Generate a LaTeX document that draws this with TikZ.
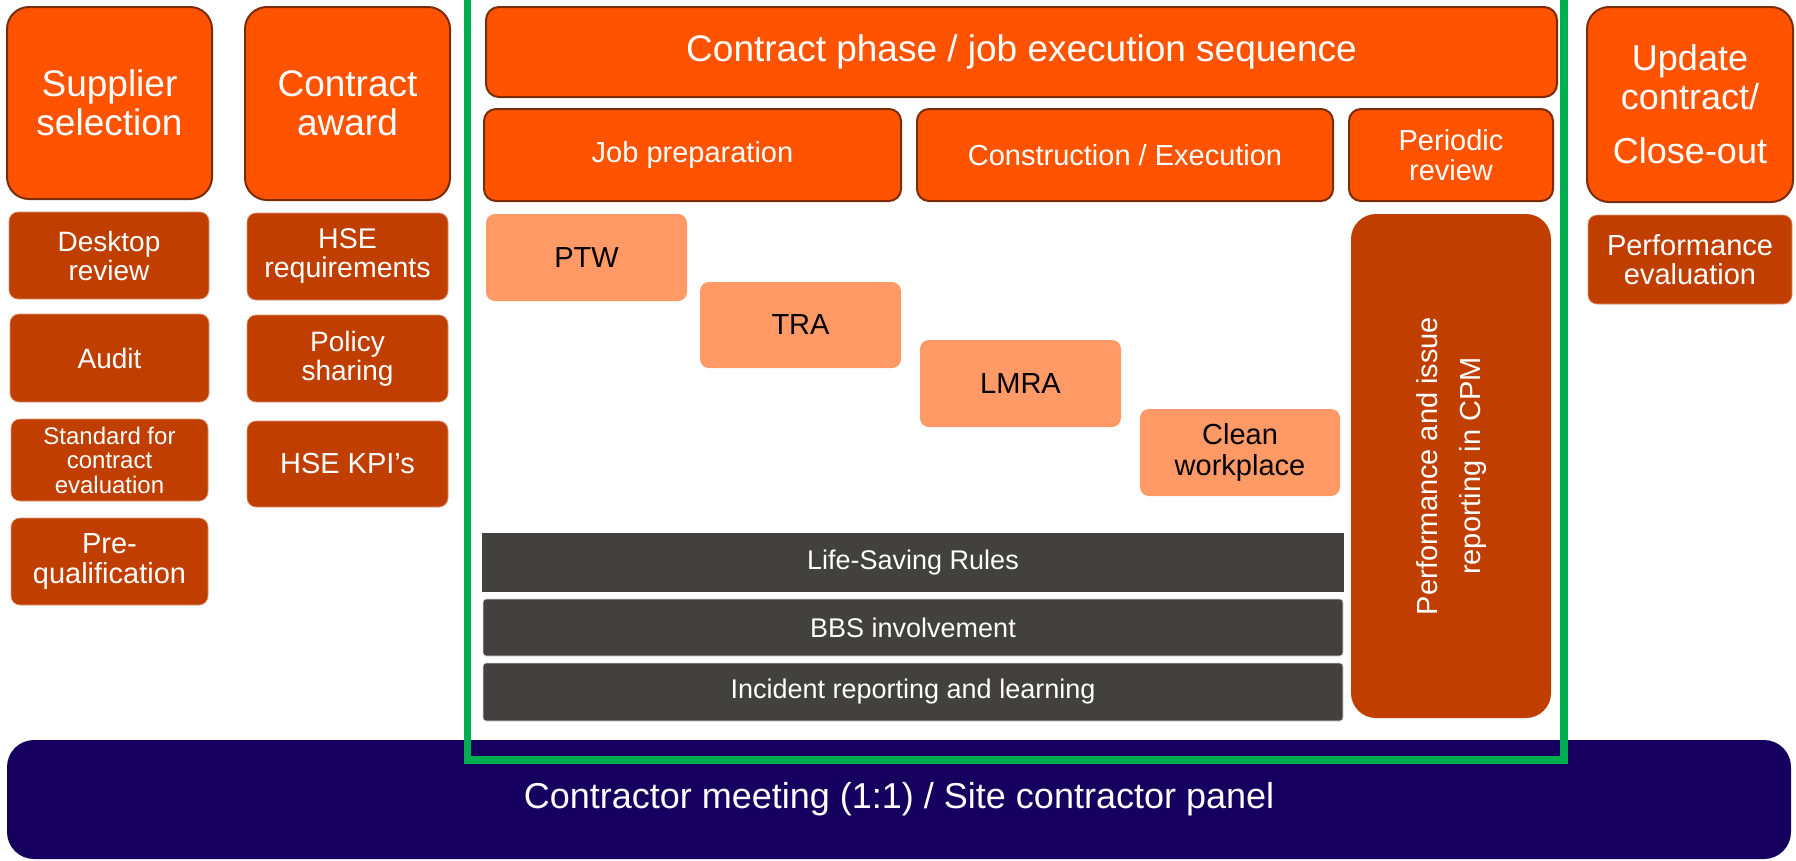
\documentclass[tikz,border=0pt]{standalone}
\usepackage{fontspec}
\setmainfont{Liberation Sans}
\definecolor{orangeA}{HTML}{FF5300}
\definecolor{orangeB}{HTML}{7A2C08}
\definecolor{rustA}{HTML}{C03F00}
\definecolor{salmonA}{HTML}{FF9966}
\definecolor{darkA}{HTML}{424140}
\definecolor{navyA}{HTML}{150060}
\definecolor{greenA}{HTML}{00B050}
\newcommand\fsz[2]{\fontsize{#1}{#2}\selectfont}
\tikzset{
  bigbox/.style={draw=orangeB, line width=2pt, fill=orangeA, rounded corners=22pt, text=white, align=center, inner sep=0pt, font=\fsz{37}{38.5}},
  headbox/.style={draw=orangeB, line width=2pt, fill=orangeA, rounded corners=12pt, text=white, align=center, inner sep=0pt, font=\fsz{29}{29.5}},
  rustbox/.style={draw=rustA!55!white, line width=0.7pt, fill=rustA, rounded corners=9pt, text=white, align=center, inner sep=0pt, font=\fsz{28}{29}},
  salmonbox/.style={fill=salmonA, rounded corners=9pt, text=black, align=center, inner sep=0pt, font=\fsz{29}{30.5}},
  darkbar/.style={fill=darkA, text=white, align=center, inner sep=0pt, font=\fsz{27}{29}},
  navybox/.style={fill=navyA, rounded corners=27pt, text=white, align=center, inner sep=0pt, font=\fsz{36}{38}},
  frameline/.style={draw=greenA, line width=7.5pt}
}
\begin{document}
\begin{tikzpicture}[x=1pt,y=-1pt]
\useasboundingbox (0,0) rectangle (1796,860);
% navy base
\node[navybox, minimum width=1784, minimum height=119] (navy) at (899,799.5) {Contractor meeting (1:1) / Site contractor panel};
% left columns
\node[bigbox, minimum width=205, minimum height=192] (sup) at (109.5,103) {Supplier\\selection};
\node[bigbox, minimum width=205, minimum height=193] (award) at (347.5,103.5) {Contract\\award};
\node[rustbox, minimum width=200, minimum height=87] (desk) at (109,255.5) {Desktop\\review};
\node[rustbox, minimum width=199, minimum height=88] (audit) at (109.5,358) {Audit};
\node[rustbox, minimum width=197, minimum height=82, font=\fsz{24}{24.5}] (std) at (109.5,460) {Standard for\\contract\\evaluation};
\node[rustbox, minimum width=197, minimum height=87, font=\fsz{29}{30}] (preq) at (109.5,561.5) {Pre-\\qualification};
\node[rustbox, minimum width=201, minimum height=87, font=\fsz{28.5}{29}] (hsereq) at (347.5,256.5) {HSE\\requirements};
\node[rustbox, minimum width=201, minimum height=87] (policy) at (347.5,358.5) {Policy\\sharing};
\node[rustbox, minimum width=201, minimum height=86, font=\fsz{29}{30}] (kpi) at (347.5,464) {HSE KPI’s};
% contract phase
\node[headbox, rounded corners=13pt, minimum width=1071, minimum height=90, font=\fsz{37}{38.5}] (phase) at (1021.5,52) {Contract phase / job execution sequence};
\node[headbox, minimum width=417, minimum height=92] (jobprep) at (692.5,155) {Job preparation};
\node[headbox, minimum width=416, minimum height=92] (constr) at (1125,155) {Construction / Execution};
\node[headbox, minimum width=204, minimum height=92] (periodic) at (1451,155) {Periodic\\review};
\node[salmonbox, minimum width=201, minimum height=87] (ptw) at (586.5,257.5) {PTW};
\node[salmonbox, minimum width=201, minimum height=86] (tra) at (800.5,325) {TRA};
\node[salmonbox, minimum width=201, minimum height=87] (lmra) at (1020.5,383.5) {LMRA};
\node[salmonbox, minimum width=200, minimum height=87] (clean) at (1240,452.5) {Clean\\workplace};
\node[darkbar, minimum width=862, minimum height=59] (lsr) at (913,562.5) {Life-Saving Rules};
\node[darkbar, draw=gray!25, line width=0.8pt, rounded corners=3pt, minimum width=860, minimum height=57] (bbs) at (913,627.5) {BBS involvement};
\node[darkbar, draw=gray!25, line width=0.8pt, rounded corners=3pt, minimum width=860, minimum height=58] (inc) at (913,692) {Incident reporting and learning};
\node[rustbox, draw=none, rounded corners=25pt, rotate=90, minimum width=504, minimum height=200, font=\fsz{29}{43}] (cpm) at (1451,466) {Performance and issue\\reporting in CPM};
% right column
\node[bigbox, minimum width=206, minimum height=195, font=\fsz{36}{39}] (update) at (1690,104.5) {Update\\contract/\\[15pt]Close-out};
\node[rustbox, minimum width=204, minimum height=89, font=\fsz{29}{29.5}] (perfeval) at (1690,259.5) {Performance\\evaluation};
% green frame
\coordinate (gtl) at (467.5,-10);
\coordinate (gbl) at (467.5,760);
\coordinate (gbr) at (1564,760);
\coordinate (gtr) at (1564,-10);
\draw[frameline] (gtl) -- (gbl) -- (gbr) -- (gtr);
\end{tikzpicture}
\end{document}
